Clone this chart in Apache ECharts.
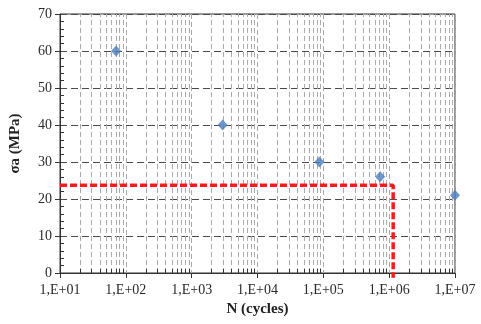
<!DOCTYPE html>
<html>
<head>
<meta charset="utf-8">
<script src="https://cdn.jsdelivr.net/npm/echarts@6/dist/echarts.min.js"></script>
<style>html,body{margin:0;padding:0;background:#fff}#c{width:481px;height:324px}</style>
</head>
<body>
<div id="c"></div>
<script>
// ---- data ----
const cyclesN = [71, 2950, 87000, 730000, 10000000];
const stressA = [60, 40, 30, 26, 21];
const limitN = [10, 1150000, 1150000];
const limitS = [23.7, 23.7, -1.3];
const xTickLabels = ['1,E+01', '1,E+02', '1,E+03', '1,E+04', '1,E+05', '1,E+06', '1,E+07'];
const decades = [10, 100, 1000, 10000, 100000, 1000000];
const minorMult = [2, 3, 4, 5, 6, 7, 8, 9];
const yMin = 0, yMax = 70, yStep = 10;

const FONT = "'Liberation Serif','Times New Roman',serif";
const minorX = [];
decades.forEach(d => minorMult.forEach(m => minorX.push([d * m, 0])));

const chart = echarts.init(document.getElementById('c'), null, {renderer: 'canvas'});
chart.setOption({
  animation: false,
  backgroundColor: '#fff',
  grid: {left: 60, right: 26, top: 14, bottom: 51, show: true, borderColor: '#333', borderWidth: 1, containLabel: false},
  xAxis: {
    type: 'log', logBase: 10, min: 10, max: 10000000,
    name: 'N (cycles)', nameLocation: 'middle', nameGap: 29,
    nameTextStyle: {fontFamily: FONT, fontWeight: 'bold', fontSize: 15, color: '#222'},
    axisLine: {lineStyle: {color: '#333', width: 1}},
    axisTick: {show: true, length: 5, lineStyle: {color: '#333'}},
    axisLabel: {fontFamily: FONT, fontSize: 14, color: '#2a2a2a', margin: 10,
      formatter: (v, i) => xTickLabels[i] !== undefined ? xTickLabels[i] : ''},
    splitLine: {show: true, lineStyle: {color: '#aaaaaa', width: 1, type: [5, 3]}}
  },
  yAxis: [{
    type: 'value', min: yMin, max: yMax, interval: yStep,
    name: 'σa (MPa)', nameLocation: 'middle', nameGap: 37,
    nameTextStyle: {fontFamily: FONT, fontWeight: 'bold', fontSize: 15, color: '#222'},
    axisLine: {show: true, lineStyle: {color: '#333', width: 1}},
    axisTick: {show: true, length: 5, lineStyle: {color: '#333'}},
    axisLabel: {fontFamily: FONT, fontSize: 14, color: '#2a2a2a', margin: 8},
    splitLine: {show: true, lineStyle: {color: '#4a4a4a', width: 1, type: [7, 4]}}
  }, {
    type: 'value', min: yMin, max: yMax, interval: yStep, position: 'left',
    axisLine: {show: false}, axisLabel: {show: false}, splitLine: {show: false},
    axisTick: {show: false, inside: true},
    minorTick: {show: true, splitNumber: 5, length: 4, lineStyle: {color: '#333'}}
  }],
  series: [
    {
      type: 'custom', z: 1, silent: true,
      data: minorX,
      renderItem: function (params, api) {
        const x = api.value(0);
        const b = api.coord([x, yMin]);
        const t = api.coord([x, yMax]);
        const px = Math.round(b[0]) + 0.5;
        return {type: 'group', children: [
          {type: 'line', shape: {x1: px, y1: b[1], x2: px, y2: t[1]},
            style: {stroke: '#aaaaaa', lineWidth: 1, lineDash: [5, 3]}},
          {type: 'line', shape: {x1: px, y1: b[1], x2: px, y2: b[1] - 4},
            style: {stroke: '#333', lineWidth: 1}}
        ]};
      }
    },
    {
      type: 'line', z: 3, clip: false, symbol: 'none',
      data: limitN.map((n, i) => [n, limitS[i]]),
      lineStyle: {color: '#ff1a1a', width: 3.5, type: [7, 3]}
    },
    {
      type: 'scatter', z: 4, symbol: 'diamond', symbolSize: [10, 11], clip: false,
      data: cyclesN.map((n, i) => [n, stressA[i]]),
      itemStyle: {color: '#4a7ebb'}
    }
  ]
});
</script>
</body>
</html>
